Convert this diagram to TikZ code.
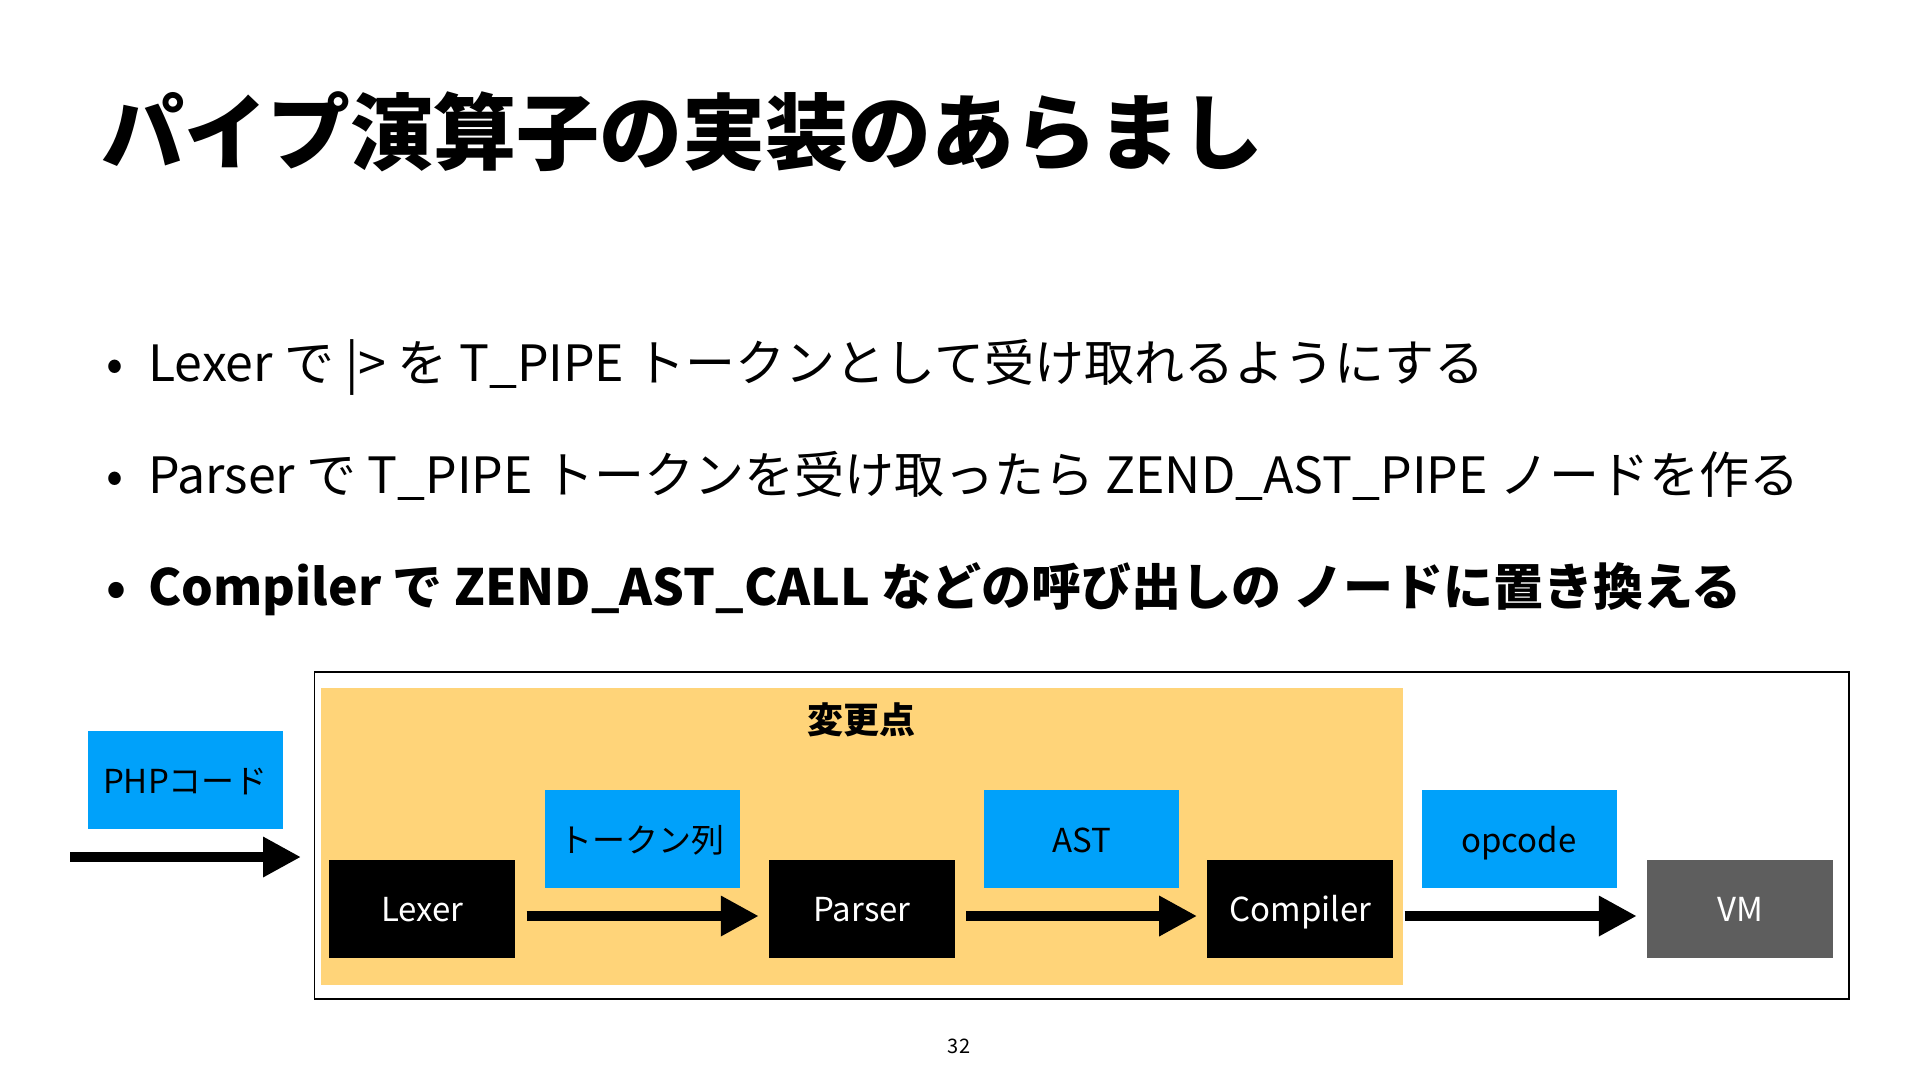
\documentclass[tikz,border=0pt]{standalone}
\usepackage{fontspec}
\setmainfont{Noto Sans CJK JP}
\usetikzlibrary{arrows.meta, positioning}
\definecolor{dataBlue}{HTML}{00A1FA}
\definecolor{changeYellow}{HTML}{FFD479}
\definecolor{vmGray}{HTML}{5E5E5E}

\begin{document}
\begin{tikzpicture}[x=1pt,y=-1pt,
    data/.style={fill=dataBlue,minimum width=195pt,minimum height=98pt,inner sep=0pt,
    text height=26pt,text depth=0pt,font=\fontsize{33}{38}\selectfont},
    stage/.style={fill=black,text=white,minimum width=186pt,minimum height=98pt,inner sep=0pt,
    text height=26pt,text depth=1pt,font=\fontsize{33}{38}\selectfont},
    flow/.style={line width=10pt,-{Triangle[length=38pt,width=38pt]},
    shorten <=11pt,shorten >=10pt},
    item/.style={anchor=west,inner sep=0pt,font=\fontsize{50}{58}\selectfont}]
    \useasboundingbox (0,0) rectangle (1920,1080);
    \node[anchor=west,inner sep=0pt,font=\fontsize{83}{96}\selectfont\bfseries](title)
        at(101,132){パイプ演算子の実装のあらまし};
    \node[item](l1)at(106,367){\makebox[42pt][l]{•}Lexer で |> を T\_PIPE トークンとして受け取れるようにする};
    \node[item](l2)at(106,476){\makebox[42pt][l]{•}Parser で T\_PIPE トークンを受け取ったら ZEND\_AST\_PIPE ノードを作る};
    \node[item,font=\fontsize{50}{58}\selectfont\bfseries](l3)at(106,589)
        {\makebox[42pt][l]{•}Compiler で ZEND\_AST\_CALL などの呼び出しの ノードに置き換える};
    % frame and changed area
    \draw[line width=1.5pt](314.7,672)rectangle(1849,999);
    \fill[changeYellow](320.8,688)rectangle(1403.3,984.5);
    \node[font=\fontsize{36}{42}\selectfont\bfseries](chg)at(861,720){変更点};
    \node[data](php)at(185.5,780){PHPコード};
    \node[stage](lexer)at(422.3,908.6){Lexer};
    \node[data](tokens)at(642.3,839){トークン列};
    \node[stage](parser)at(862,908.6){Parser};
    \node[data](ast)at(1081.8,839){AST};
    \node[stage](compiler)at(1300.3,908.6){Compiler};
    \node[data](opcode)at(1519,839){opcode};
    \node[stage,fill=vmGray](vm)at(1740,908.6){VM};
    \coordinate(src)at(70,857);
    \coordinate(entry)at(301,857);
    \draw[flow,shorten <=0pt,shorten >=0pt](src)--(entry);
    \draw[flow]([yshift=-7.4pt]lexer.east)--([yshift=-7.4pt]parser.west);
    \draw[flow]([yshift=-7.4pt]parser.east)--([yshift=-7.4pt]compiler.west);
    \draw[flow]([yshift=-7.4pt]compiler.east)--([yshift=-7.4pt]vm.west);
    \node[font=\fontsize{20}{24}\selectfont](page)at(959,1046){32};
\end{tikzpicture}
\end{document}
